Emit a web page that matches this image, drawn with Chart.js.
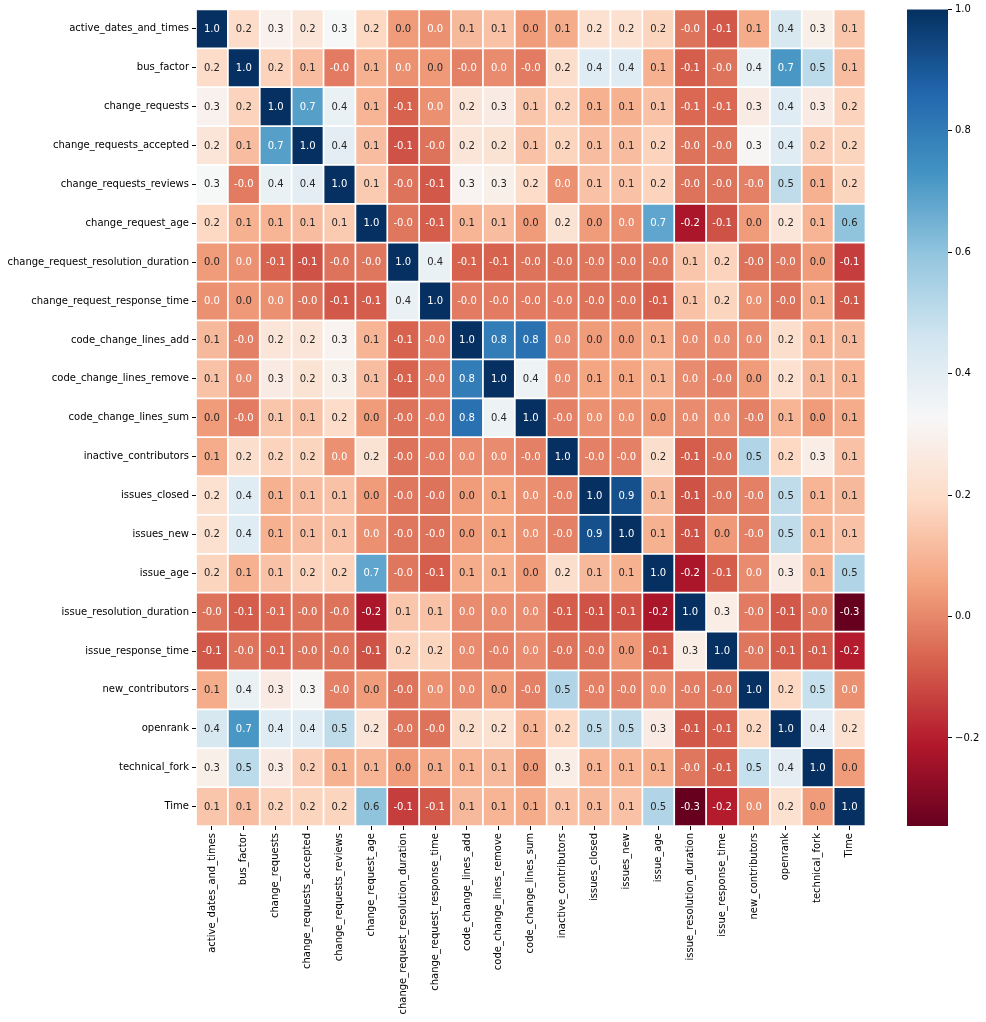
<!DOCTYPE html>
<html><head><meta charset="utf-8">
<script src="https://cdn.jsdelivr.net/npm/chart.js@4.4.1/dist/chart.umd.min.js"></script>
<style>
html,body{margin:0;padding:0;background:#fff;width:986px;height:1022px;overflow:hidden}
#wrap{position:relative;width:986px;height:1022px;background:#fff}
#main{position:absolute;left:0;top:0;width:880px;height:1022px}
#cbar{position:absolute;left:907px;top:0;width:79px;height:1022px}
</style></head><body>
<div id="wrap">
<canvas id="main" width="880" height="1022"></canvas>
<canvas id="cbar" width="79" height="1022"></canvas>
</div>
<script>
// ---- data ----
const variables = ["active_dates_and_times","bus_factor","change_requests","change_requests_accepted","change_requests_reviews","change_request_age","change_request_resolution_duration","change_request_response_time","code_change_lines_add","code_change_lines_remove","code_change_lines_sum","inactive_contributors","issues_closed","issues_new","issue_age","issue_resolution_duration","issue_response_time","new_contributors","openrank","technical_fork","Time"];

const rowActiveDatesAndTimes = [1.00,0.20,0.30,0.24,0.33,0.19,0.04,0.02,0.11,0.13,0.04,0.08,0.22,0.22,0.18,-0.04,-0.09,0.08,0.44,0.29,0.14];
const rowBusFactor = [0.20,1.00,0.17,0.12,-0.02,0.09,0.02,0.035,-0.01,0.01,-0.02,0.21,0.41,0.41,0.09,-0.08,-0.04,0.37,0.72,0.51,0.12];
const rowChangeRequests = [0.30,0.17,1.00,0.70,0.37,0.10,-0.07,0.02,0.24,0.27,0.14,0.17,0.09,0.09,0.13,-0.06,-0.06,0.27,0.41,0.27,0.17];
const rowChangeRequestsAccepted = [0.24,0.12,0.70,1.00,0.40,0.12,-0.10,-0.04,0.24,0.23,0.13,0.18,0.12,0.12,0.17,-0.04,-0.04,0.32,0.41,0.16,0.18];
const rowChangeRequestsReviews = [0.33,-0.02,0.37,0.40,1.00,0.15,-0.04,-0.09,0.31,0.29,0.20,0.02,0.13,0.13,0.17,-0.04,-0.04,-0.01,0.50,0.09,0.18];
const rowChangeRequestAge = [0.19,0.09,0.10,0.12,0.15,1.00,-0.03,-0.08,0.10,0.12,0.04,0.23,0.04,0.02,0.68,-0.22,-0.10,0.04,0.24,0.10,0.60];
const rowChangeRequestResolutionDuration = [0.04,0.02,-0.07,-0.10,-0.04,-0.03,1.00,0.37,-0.07,-0.07,-0.04,-0.04,-0.03,-0.03,-0.03,0.14,0.17,-0.04,-0.03,0.04,-0.14];
const rowChangeRequestResponseTime = [0.02,0.035,0.02,-0.04,-0.09,-0.08,0.37,1.00,-0.02,-0.02,-0.02,-0.02,-0.04,-0.04,-0.08,0.13,0.18,0.02,-0.04,0.08,-0.09];
const rowCodeChangeLinesAdd = [0.11,-0.01,0.24,0.24,0.31,0.10,-0.07,-0.02,1.00,0.80,0.83,0.01,0.04,0.04,0.08,0.01,0.01,0.01,0.21,0.10,0.11];
const rowCodeChangeLinesRemove = [0.13,0.01,0.27,0.23,0.29,0.12,-0.07,-0.02,0.80,1.00,0.36,0.01,0.06,0.06,0.09,0.01,-0.01,0.04,0.22,0.11,0.10];
const rowCodeChangeLinesSum = [0.04,-0.02,0.14,0.13,0.20,0.04,-0.04,-0.02,0.83,0.36,1.00,-0.01,0.02,0.02,0.04,0.01,0.01,-0.01,0.10,0.04,0.08];
const rowInactiveContributors = [0.08,0.21,0.17,0.18,0.02,0.23,-0.04,-0.02,0.01,0.01,-0.01,1.00,-0.01,-0.01,0.21,-0.08,-0.04,0.53,0.19,0.28,0.13];
const rowIssuesClosed = [0.22,0.41,0.09,0.12,0.13,0.04,-0.03,-0.04,0.04,0.06,0.02,-0.01,1.00,0.92,0.11,-0.10,-0.04,-0.01,0.50,0.10,0.11];
const rowIssuesNew = [0.22,0.41,0.09,0.12,0.13,0.02,-0.03,-0.04,0.04,0.06,0.02,-0.01,0.92,1.00,0.09,-0.10,0.035,-0.01,0.50,0.10,0.13];
const rowIssueAge = [0.18,0.09,0.13,0.17,0.17,0.68,-0.03,-0.08,0.08,0.09,0.04,0.21,0.11,0.09,1.00,-0.22,-0.08,0.01,0.27,0.09,0.53];
const rowIssueResolutionDuration = [-0.04,-0.08,-0.06,-0.04,-0.04,-0.22,0.14,0.13,0.01,0.01,0.01,-0.08,-0.10,-0.10,-0.22,1.00,0.28,-0.02,-0.09,-0.03,-0.345];
const rowIssueResponseTime = [-0.09,-0.04,-0.06,-0.04,-0.04,-0.10,0.17,0.18,0.01,-0.01,0.01,-0.04,-0.04,0.035,-0.08,0.28,1.00,-0.03,-0.08,-0.08,-0.20];
const rowNewContributors = [0.08,0.37,0.27,0.32,-0.01,0.04,-0.04,0.02,0.01,0.04,-0.01,0.53,-0.01,-0.01,0.01,-0.02,-0.03,1.00,0.19,0.48,0.02];
const rowOpenrank = [0.44,0.72,0.41,0.41,0.50,0.24,-0.03,-0.04,0.21,0.22,0.10,0.19,0.50,0.50,0.27,-0.09,-0.08,0.19,1.00,0.40,0.22];
const rowTechnicalFork = [0.29,0.51,0.27,0.16,0.09,0.10,0.04,0.08,0.10,0.11,0.04,0.28,0.10,0.10,0.09,-0.03,-0.08,0.48,0.40,1.00,0.04];
const rowTime = [0.14,0.12,0.17,0.18,0.18,0.60,-0.14,-0.09,0.11,0.10,0.08,0.13,0.11,0.13,0.53,-0.345,-0.20,0.02,0.22,0.04,1.00];

const corrRows = [rowActiveDatesAndTimes,rowBusFactor,rowChangeRequests,rowChangeRequestsAccepted,rowChangeRequestsReviews,rowChangeRequestAge,rowChangeRequestResolutionDuration,rowChangeRequestResponseTime,rowCodeChangeLinesAdd,rowCodeChangeLinesRemove,rowCodeChangeLinesSum,rowInactiveContributors,rowIssuesClosed,rowIssuesNew,rowIssueAge,rowIssueResolutionDuration,rowIssueResponseTime,rowNewContributors,rowOpenrank,rowTechnicalFork,rowTime];
const colorbarTicks = [-0.2,0.0,0.2,0.4,0.6,0.8,1.0];

// ---- colour map (matplotlib RdBu) ----
const RDBU = [[103,0,31],[178,24,43],[214,96,77],[244,165,130],[253,219,199],[247,247,247],[209,229,240],[146,197,222],[67,147,195],[33,102,172],[5,48,97]];
const allVals = corrRows.flat();
const vmin = Math.min(...allVals), vmax = Math.max(...allVals);
function rdbu(t){
  t = Math.max(0, Math.min(1, t));
  const s = t*10; const i = Math.min(9, Math.floor(s)); const f = s - i;
  return RDBU[i].map((c,k)=>c + (RDBU[i+1][k]-c)*f);
}
function colorFor(v){
  let t = (v - vmin)/(vmax - vmin);
  t = Math.min(255, Math.floor(t*256))/255;
  return rdbu(t);
}
function rgbStr(c){ return 'rgb(' + c.map(x=>Math.round(x)).join(',') + ')'; }
function luminance(c){
  const l = c.map(x=>{ x/=255; return x <= 0.03928 ? x/12.92 : Math.pow((x+0.055)/1.055, 2.4); });
  return 0.2126*l[0] + 0.7152*l[1] + 0.0722*l[2];
}

const FONT = {family: "'DejaVu Sans', sans-serif", size: 10};
Chart.defaults.font.family = FONT.family;
Chart.defaults.font.size = 10;
Chart.defaults.color = '#000';

const datasets = corrRows.map((row, r) => ({
  label: variables[r],
  data: variables.map(() => [r, r + 1]),
  backgroundColor: row.map(v => rgbStr(colorFor(v))),
  borderColor: '#ffffff',
  borderWidth: 1.2,
  borderSkipped: false,
  grouped: false,
  barPercentage: 1,
  categoryPercentage: 1
}));

const annotatePlugin = {
  id: 'annotate',
  afterDatasetsDraw(chart){
    const ctx = chart.ctx;
    ctx.save();
    ctx.font = "10px 'DejaVu Sans'";
    ctx.textAlign = 'center';
    ctx.textBaseline = 'middle';
    corrRows.forEach((row, r) => {
      const meta = chart.getDatasetMeta(r);
      meta.data.forEach((bar, c) => {
        const p = bar.getProps(['x','y','base'], true);
        const v = row[c];
        const col = colorFor(v);
        ctx.fillStyle = luminance(col) > 0.408 ? 'rgb(38,38,38)' : '#ffffff';
        ctx.fillText(v.toFixed(1), p.x, (p.y + p.base)/2 + 0.5);
      });
    });
    ctx.restore();
  }
};

new Chart(document.getElementById('main'), {
  type: 'bar',
  data: { labels: variables, datasets },
  plugins: [annotatePlugin],
  options: {
    responsive: false,
    animation: false,
    devicePixelRatio: 1,
    layout: { padding: { top: 9.4, right: 14.5, left: 0, bottom: 0 } },
    plugins: { legend: { display: false }, tooltip: { enabled: false } },
    scales: {
      x: {
        type: 'category',
        offset: true,
        grid: { offset: false, drawOnChartArea: false, drawTicks: true, tickLength: 4, color: '#000' },
        border: { display: false },
        ticks: { autoSkip: false, minRotation: 90, maxRotation: 90, padding: 3, color: '#000', font: FONT },
        afterFit(s){ s.height = 196; }
      },
      y: {
        type: 'linear',
        min: 0, max: variables.length,
        reverse: true,
        grid: { drawOnChartArea: false, drawTicks: true, tickLength: 4, color: '#000' },
        border: { display: false },
        afterBuildTicks(s){ s.ticks = variables.map((_, i) => ({ value: i + 0.5 })); },
        ticks: { autoSkip: false, padding: 3, color: '#000', font: FONT, callback: (v, i) => variables[i] },
        afterFit(s){ s.width = 196; }
      }
    }
  }
});

// ---- colour bar ----
new Chart(document.getElementById('cbar'), {
  type: 'bar',
  data: {
    labels: ['scale'],
    datasets: [{
      data: [[vmin, vmax]],
      backgroundColor(ctx){
        const chart = ctx.chart;
        if (!chart.chartArea) return 'rgba(0,0,0,0)';
        const ys = chart.scales.y;
        const g = chart.ctx.createLinearGradient(0, ys.getPixelForValue(vmin), 0, ys.getPixelForValue(vmax));
        RDBU.forEach((c, i) => g.addColorStop(i/10, rgbStr(c)));
        return g;
      },
      borderWidth: 0,
      barPercentage: 1,
      categoryPercentage: 1
    }]
  },
  options: {
    responsive: false,
    animation: false,
    devicePixelRatio: 1,
    layout: { padding: { top: 9.4, bottom: 196, left: 0, right: 0 } },
    plugins: { legend: { display: false }, tooltip: { enabled: false } },
    scales: {
      x: { display: false, offset: true },
      y: {
        type: 'linear',
        position: 'right',
        min: vmin, max: vmax,
        grid: { drawOnChartArea: false, drawTicks: true, tickLength: 4, color: '#000' },
        border: { display: false },
        afterBuildTicks(s){ s.ticks = colorbarTicks.map(v => ({ value: v })); },
        ticks: {
          padding: 3, color: '#000', font: FONT,
          callback: (v) => v < 0 ? '\u2212' + (-v).toFixed(1) : v.toFixed(1)
        },
        afterFit(s){ s.width = 38; }
      }
    }
  }
});
</script>
</body></html>
